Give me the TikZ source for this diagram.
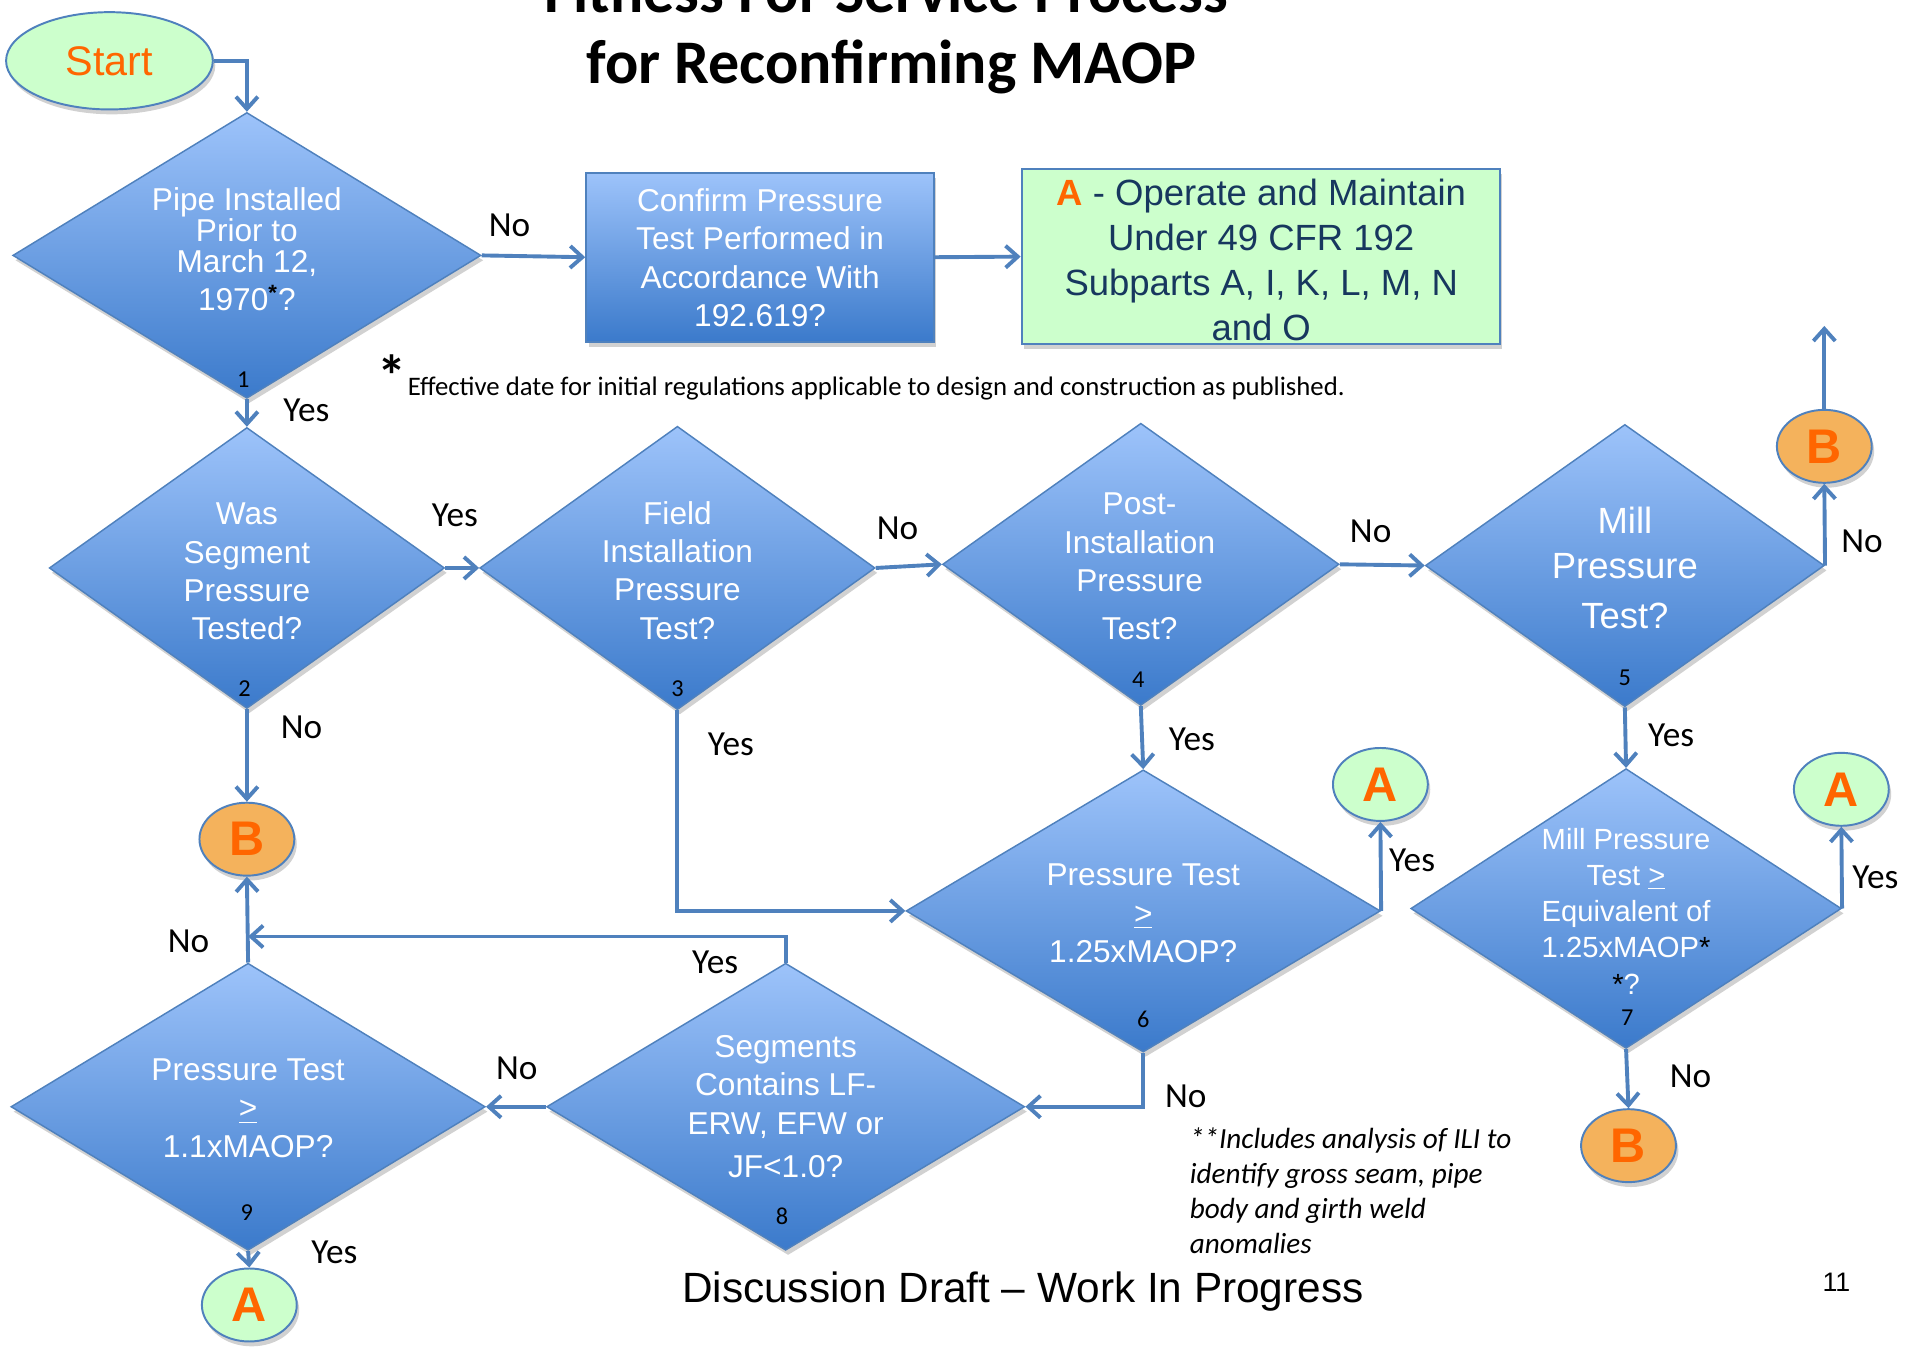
\documentclass[tikz,border=0pt]{standalone}
\usepackage{fontspec}
\setmainfont{Liberation Sans}
\newfontfamily\califont{Carlito}
\usetikzlibrary{shapes.geometric,arrows.meta,shadows}
\definecolor{lineblue}{HTML}{4F81BD}
\definecolor{qtop}{HTML}{9DC3FA}
\definecolor{qbot}{HTML}{3B7ACB}
\definecolor{okgreen}{HTML}{CCFFCC}
\definecolor{bfill}{HTML}{F4B25C}
\definecolor{tagorange}{HTML}{FF6600}
\definecolor{navy}{HTML}{17375E}
\tikzset{
  softshadow/.style={drop shadow={shadow xshift=1pt,shadow yshift=-2pt,fill=black!18,opacity=1}},
  q/.style={diamond,draw=lineblue,line width=0.6pt,top color=qtop,bottom color=qbot,inner sep=0pt,softshadow},
  qtxt/.style={align=center,text=white,font=\fontsize{13}{15.8}\selectfont,inner sep=0pt},
  qnum/.style={font=\califont\fontsize{10}{10}\selectfont,inner sep=0pt},
  lbl/.style={font=\califont\fontsize{14.5}{14.5}\selectfont,inner sep=0pt},
  tag/.style={ellipse,draw=lineblue,line width=0.8pt,minimum width=39pt,minimum height=30pt,inner sep=0pt,text=tagorange,font=\bfseries\fontsize{20}{20}\selectfont,softshadow},
  tagA/.style={tag,fill=okgreen},
  tagB/.style={tag,fill=bfill},
  arr/.style={draw=lineblue,line width=1.6pt,-{Straight Barb[length=5pt,width=9pt]}}
}
\begin{document}
\begin{tikzpicture}[x=0.5pt,y=-0.5pt]
\useasboundingbox (0,0) rectangle (1568,1107);
\node[anchor=base,font=\califont\bfseries\fontsize{25.5}{28}\selectfont] (title1) at (729,10) {Fitness For Service Process};
\node[anchor=base,font=\califont\bfseries\fontsize{25.5}{28}\selectfont] (title2) at (733,69) {for Reconfirming MAOP};

\node[ellipse,draw=lineblue,line width=0.8pt,fill=okgreen,minimum width=85pt,minimum height=40pt,text=tagorange,font=\fontsize{17}{17}\selectfont,softshadow] (start) at (90,50) {Start};

\node[q,minimum width=192.5pt,minimum height=117.5pt] (q1) at (203,210) {};
\node[qtxt,font=\fontsize{13}{12.75}\selectfont] (q1t) at (203,205) {Pipe Installed\\Prior to\\March 12,\\[3pt]1970\textsuperscript{\textcolor{black}{\bfseries *}}?};
\node[qnum] (n1) at (200,312) {1};

\node[draw=lineblue,line width=0.8pt,top color=qtop,bottom color=qbot,minimum width=143pt,minimum height=69.5pt,softshadow] (confirm) at (625,211.5) {};
\node[qtxt] (confirmt) at (625,212) {Confirm Pressure\\Test Performed in\\Accordance With\\192.619?};

\node[draw=lineblue,line width=0.8pt,fill=okgreen,minimum width=196.5pt,minimum height=72pt,softshadow] (opA) at (1036.5,211) {};
\node[align=center,text=navy,inner sep=0pt,font=\fontsize{15}{18.5}\selectfont] (opAt) at (1037,214) {{\color{tagorange}\bfseries A} - Operate and Maintain\\Under 49 CFR 192\\Subparts A, I, K, L, M, N\\and O};

\node[font=\califont\bfseries\fontsize{24}{24}\selectfont,inner sep=0pt] (fnstar) at (322,309) {*};
\node[anchor=base west,font=\califont\fontsize{11}{12}\selectfont,inner sep=0pt] (fn) at (335,325) {Effective date for initial regulations applicable to design and construction as published.};

\node[q,minimum width=162.5pt,minimum height=115.5pt] (q2) at (203,467) {};
\node[qtxt] (q2t) at (203,470) {Was\\Segment\\Pressure\\Tested?};
\node[qnum] (n2) at (201,566) {2};

\node[q,minimum width=162.5pt,minimum height=116.5pt] (q3) at (557,467) {};
\node[qtxt] (q3t) at (557,469) {Field\\Installation\\Pressure\\Test?};
\node[qnum] (n3) at (557,566) {3};

\node[q,minimum width=163pt,minimum height=116pt] (q4) at (938,464) {};
\node[qtxt] (q4t) at (937,466) {Post-\\Installation\\Pressure\\[4pt]Test?};
\node[qnum] (n4) at (936,559) {4};

\node[q,minimum width=164pt,minimum height=116pt] (q5) at (1336,465) {};
\node[qtxt,font=\fontsize{15}{18.5}\selectfont] (q5t) at (1336,467) {Mill\\Pressure\\[2pt]Test?};
\node[qnum] (n5) at (1336,557) {5};

\node[tagB] (b1) at (1500,367) {B};
\coordinate (up) at (1500,268);

\node[tagB] (b2) at (203,690) {B};

\node[q,minimum width=195pt,minimum height=116pt] (q6) at (940,749) {};
\node[qtxt] (q6t) at (940,751) {Pressure Test\\\underline{>}\\1.25xMAOP?};
\node[qnum] (n6) at (940,838) {6};

\node[tagA] (a2) at (1135,645) {A};

\node[q,minimum width=177pt,minimum height=115pt] (q7) at (1337,747) {};
\node[qtxt,font=\fontsize{12}{14.9}\selectfont] (q7t) at (1337,749) {Mill Pressure\\Test \underline{>}\\Equivalent of\\1.25xMAOP\textcolor{black}{*}\\\textcolor{black}{*}?};
\node[qnum] (n7) at (1338,837) {7};

\node[tagA] (a3) at (1514,649) {A};
\node[tagB] (b3) at (1339,942) {B};

\node[q,minimum width=196.5pt,minimum height=118pt] (q8) at (646,910) {};
\node[qtxt] (q8t) at (646,910) {Segments\\Contains LF-\\ERW, EFW or\\[2pt]JF<1.0?};
\node[qnum] (n8) at (643,1000) {8};

\node[q,minimum width=195pt,minimum height=118pt] (q9) at (204,910) {};
\node[qtxt] (q9t) at (204,911) {Pressure Test\\\underline{>}\\1.1xMAOP?};
\node[qnum] (n9) at (203,997) {9};
\coordinate (j) at (204,770);

\node[tagA] (a4) at (205,1073) {A};

\node[anchor=west,align=left,inner sep=0pt,font=\califont\itshape\fontsize{12}{14.5}\selectfont] (note) at (978,979) {**Includes analysis of ILI to\\identify gross seam, pipe\\body and girth weld\\anomalies};
\node[anchor=base,font=\fontsize{17.4}{18}\selectfont] (draft) at (841,1071) {Discussion Draft -- Work In Progress};
\node[anchor=base,font=\fontsize{11}{12}\selectfont] (page) at (1510,1062) {11};

\draw[arr] (start.east) -| (q1.north);
\draw[arr] (q1.east) -- (confirm.west);
\draw[arr] (confirm.east) -- (opA.west);
\draw[arr] (q1.south) -- (q2.north);
\draw[arr] (q2.east) -- (q3.west);
\draw[arr] (q3.east) -- (q4.west);
\draw[arr] (q4.east) -- (q5.west);
\draw[arr] (q5.east) -- (b1.south);
\draw[arr] (b1.north) -- (up);
\draw[arr] (q2.south) -- (b2.north);
\draw[arr] (q3.south) |- (q6.west);
\draw[arr] (q4.south) -- (q6.north);
\draw[arr] (q6.east) -- (a2.south);
\draw[arr] (q6.south) |- (q8.east);
\draw[arr] (q5.south) -- (q7.north);
\draw[arr] (q7.east) -- (a3.south);
\draw[arr] (q7.south) -- (b3.north);
\draw[arr] (q8.west) -- (q9.east);
\draw[arr] (q8.north) |- (j);
\draw[arr] (q9.north) -- (b2.south);
\draw[arr] (q9.south) -- (a4.north);

\node[lbl] (l1) at (419,185) {No};
\node[lbl] (l2) at (252,337) {Yes};
\node[lbl] (l3) at (374,424) {Yes};
\node[lbl] (l4) at (738,434) {No};
\node[lbl] (l5) at (1127,437) {No};
\node[lbl] (l6) at (1531,445) {No};
\node[lbl] (l7) at (248,598) {No};
\node[lbl] (l8) at (601,612) {Yes};
\node[lbl] (l9) at (980,608) {Yes};
\node[lbl] (l10) at (1161,707) {Yes};
\node[lbl] (l11) at (1374,605) {Yes};
\node[lbl] (l12) at (1542,721) {Yes};
\node[lbl] (l13) at (1390,885) {No};
\node[lbl] (l14) at (975,901) {No};
\node[lbl] (l15) at (425,878) {No};
\node[lbl] (l16) at (588,791) {Yes};
\node[lbl] (l17) at (155,774) {No};
\node[lbl] (l18) at (275,1030) {Yes};
\end{tikzpicture}
\end{document}
